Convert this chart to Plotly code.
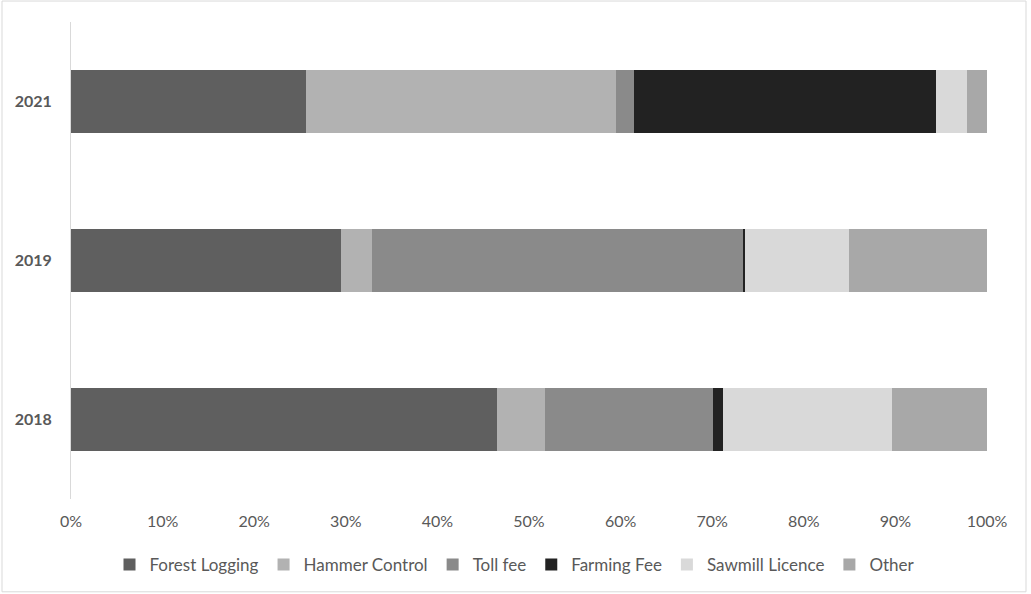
import plotly.graph_objects as go

years = ["2018", "2019", "2021"]
series_names = ["Forest Logging", "Hammer Control", "Toll fee", "Farming Fee", "Sawmill Licence", "Other"]
forest_logging = [46.5, 29.5, 25.7]
hammer_control = [5.2, 3.4, 33.8]
toll_fee = [18.4, 40.5, 2.0]
farming_fee = [1.1, 0.2, 32.9]
sawmill_licence = [18.4, 11.3, 3.4]
other = [10.4, 15.1, 2.2]
x_ticks = [0, 0.1, 0.2, 0.3, 0.4, 0.5, 0.6, 0.7, 0.8, 0.9, 1.0]

colors = ["#5f5f5f", "#b2b2b2", "#8a8a8a", "#222222", "#d9d9d9", "#a8a8a8"]
all_series = [forest_logging, hammer_control, toll_fee, farming_fee, sawmill_licence, other]

fig = go.Figure()
for name, vals, col in zip(series_names, all_series, colors):
    fig.add_trace(go.Bar(
        y=years, x=[v / 100 for v in vals], name=name, orientation="h",
        marker=dict(color=col, line=dict(width=0)),
    ))

FONT = "Lato"
W, H = 1031, 594
L, R, T, B = 71, 44, 22, 94
pw, ph = W - L - R, H - T - B

def px_to_paper_x(px):
    return (px - L) / pw

def py_to_paper_y(py):
    return (H - B - py) / ph

fig.update_layout(
    width=W, height=H,
    margin=dict(l=L, r=R, t=T, b=B, pad=0),
    barmode="stack", bargap=0.6,
    plot_bgcolor="white", paper_bgcolor="white",
    font=dict(family=FONT, color="#595959", size=16),
    xaxis=dict(range=[0, 1], tickvals=x_ticks, tickformat=".0%", showgrid=False,
               zeroline=False, showline=False, ticks="", tickfont=dict(size=16),
               ticklabelstandoff=11),
    yaxis=dict(showgrid=False, zeroline=False, showline=True, linecolor="#d9d9d9",
               linewidth=1, ticks="", tickfont=dict(size=16, family=FONT, weight="bold", color="#595959"),
               ticklabelstandoff=15),
    legend=dict(orientation="h", x=px_to_paper_x(515), xanchor="center", y=py_to_paper_y(565), yanchor="middle",
                traceorder="normal", font=dict(size=17, color="#595959"), itemwidth=30),
    showlegend=True,
)
fig.add_shape(type="rect", xref="paper", yref="paper",
              x0=px_to_paper_x(2), x1=px_to_paper_x(1026),
              y0=py_to_paper_y(593), y1=py_to_paper_y(1),
              line=dict(color="#d9d9d9", width=1), fillcolor="rgba(0,0,0,0)", layer="below")

fig.write_html("out.html")
